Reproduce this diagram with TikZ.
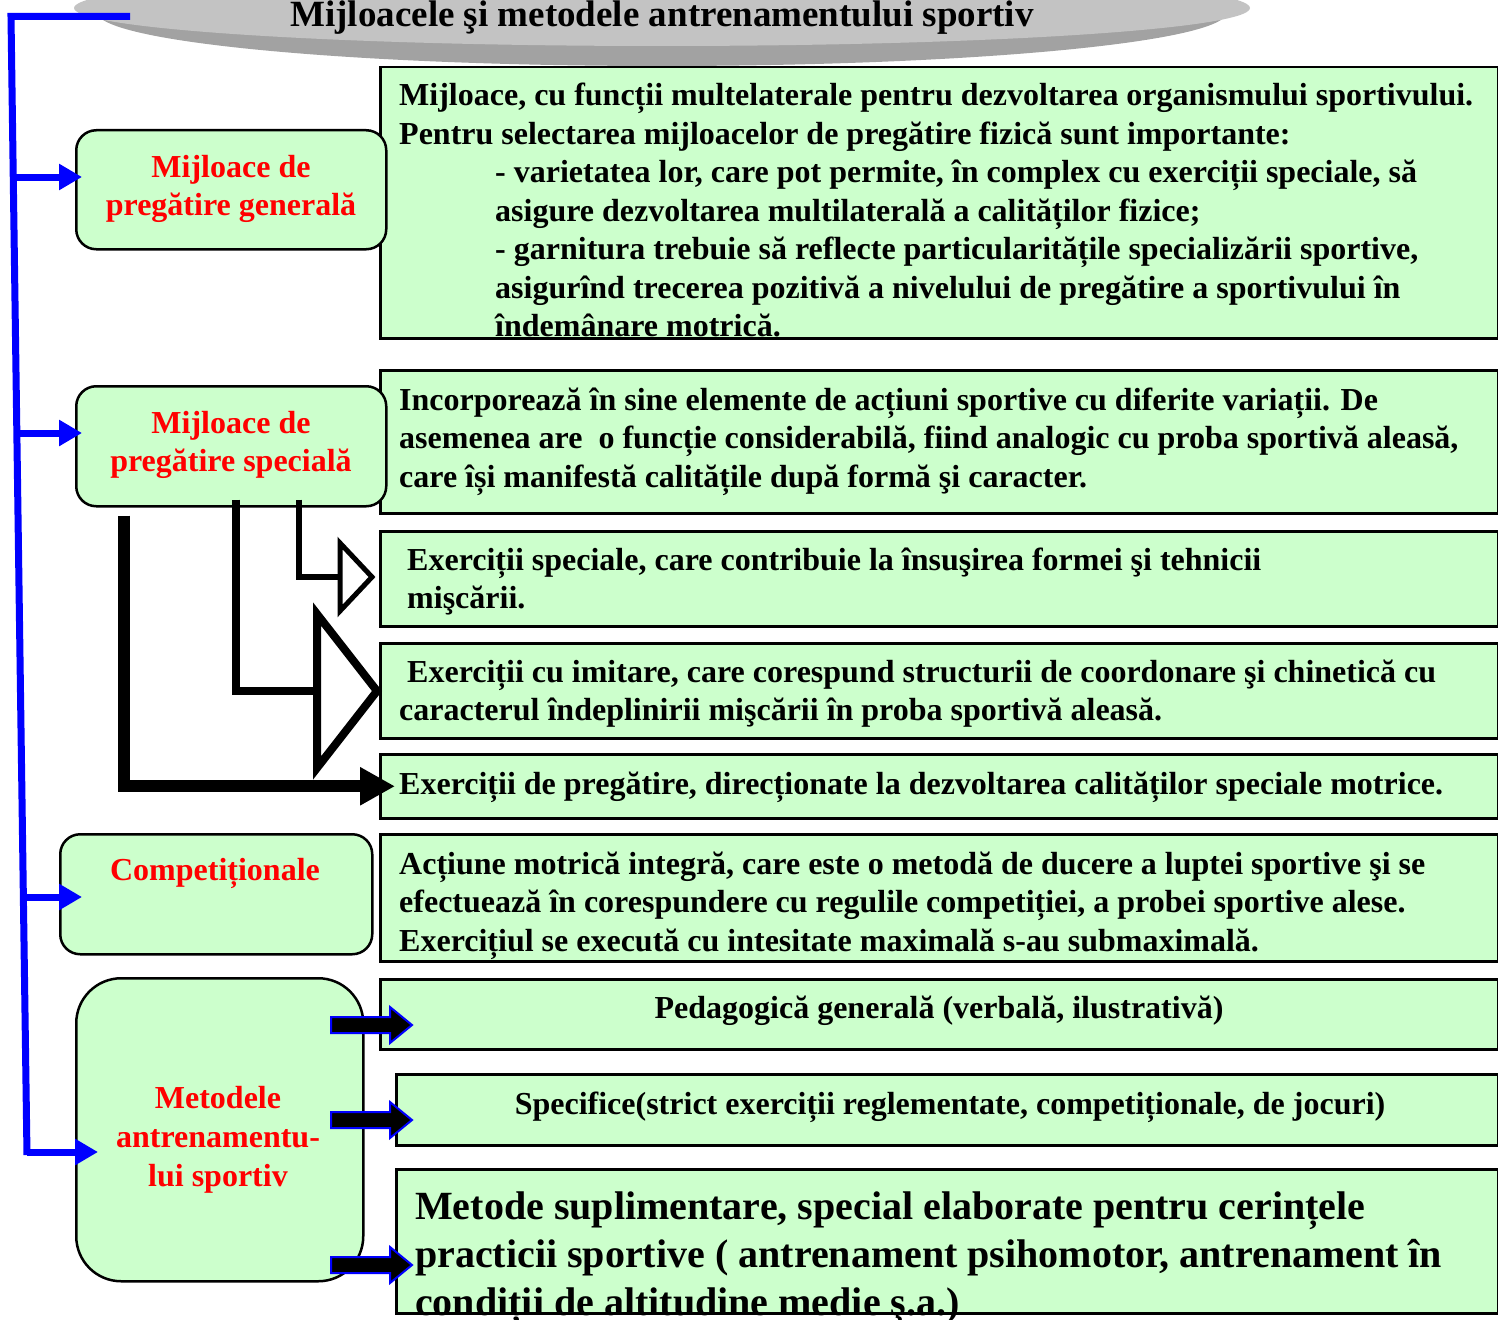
\documentclass[tikz,border=0pt]{standalone}
\usepackage{fontspec}
\setmainfont{Liberation Serif}
\usetikzlibrary{arrows.meta,calc}
\definecolor{lgreen}{HTML}{CCFFCC}
\definecolor{dgray}{HTML}{A2A2A2}
\definecolor{lgray}{HTML}{C3C3C3}
\begin{document}
\begin{tikzpicture}[x=1pt,y=-1pt,
  lbox/.style={draw=black, line width=2.5pt, fill=lgreen, rounded corners=20pt, anchor=north west, inner sep=0pt},
  rbox/.style={draw=black, line width=2.5pt, fill=lgreen, anchor=north west, inner sep=0pt},
  txt/.style={font=\bfseries\fontsize{32}{38}\selectfont, inner sep=0pt, anchor=base west},
  ctxt/.style={txt, anchor=base},
  btxt/.style={font=\bfseries\fontsize{40}{48}\selectfont, inner sep=0pt, anchor=base west},
  rtxt/.style={font=\bfseries\fontsize{32}{39}\selectfont, text=red, inner sep=0pt, anchor=base},
  bluearrow/.style={draw=blue, line width=7pt, -{Triangle[length=23pt,width=25pt]}},
  pics/barrow/.style={code={\draw[fill=black,draw=blue,line width=2pt,line join=miter]
     (0,-8) -- (59,-8) -- (59,-18) -- (81,0) -- (59,18) -- (59,8) -- (0,8) -- cycle;}}
]
\useasboundingbox (0,0) rectangle (1498,1319);
\clip (0,0) rectangle (1498,1319);

% title disc
\fill[dgray] (662,12) ellipse [x radius=565, y radius=54];
\fill[lgray] (662,8) ellipse [x radius=588, y radius=38];
\node[font=\bfseries\fontsize{37}{40}\selectfont, inner sep=0pt, anchor=base] (title) at (662,27) {Mijloacele şi metodele antrenamentului sportiv};

% right boxes
\node[rbox, minimum width=1118pt, minimum height=271pt] (r1) at (379,66) {};
\node[rbox, minimum width=1118pt, minimum height=143pt] (r2) at (379,369) {};
\node[rbox, minimum width=1118pt, minimum height=95pt] (r3) at (379,530) {};
\node[rbox, minimum width=1118pt, minimum height=95pt] (r4) at (379,642) {};
\node[rbox, minimum width=1118pt, minimum height=64pt] (r5) at (379,753) {};
\node[rbox, minimum width=1118pt, minimum height=127pt] (r6) at (379,833) {};
\node[rbox, minimum width=1118pt, minimum height=70pt] (r7) at (379,978) {};
\node[rbox, minimum width=1102pt, minimum height=71pt] (r8) at (395,1073) {};
\node[rbox, minimum width=1102pt, minimum height=144pt] (r9) at (395,1168) {};

% left boxes
\node[lbox, minimum width=310pt, minimum height=119pt] (g) at (75,129) {};
\node[lbox, minimum width=310pt, minimum height=120pt] (s) at (75,385) {};
\node[lbox, minimum width=312pt, minimum height=120pt] (c) at (59,833) {};
\node[lbox, rounded corners=45pt, minimum width=287pt, minimum height=303pt] (m) at (75,977) {};

% left texts
\node[rtxt] (gt1) at (231,177) {Mijloace de};
\node[rtxt] (gt2) at (231,215) {pregătire generală};
\node[rtxt] (st1) at (231,433) {Mijloace de};
\node[rtxt] (st2) at (231,471) {pregătire specială};
\node[rtxt] (ct1) at (215,880) {Competiționale};
\node[rtxt] (mt1) at (218,1108) {Metodele};
\node[rtxt] (mt2) at (218,1147) {antrenamentu-};
\node[rtxt] (mt3) at (218,1186) {lui sportiv};

% right texts
\node[txt] (r1a) at (399,106) {Mijloace, cu funcții multelaterale pentru dezvoltarea organismului sportivului.};
\node[txt] (r1b) at (399,144) {Pentru selectarea mijloacelor de pregătire fizică sunt importante:};
\node[txt] (r1c) at (495,182) {- varietatea lor, care pot permite, în complex cu exerciții speciale, să};
\node[txt] (r1d) at (495,221) {asigure dezvoltarea multilaterală a calităților fizice;};
\node[txt] (r1e) at (495,259) {- garnitura trebuie să reflecte particularitățile specializării sportive,};
\node[txt] (r1f) at (495,298) {asigurînd trecerea pozitivă a nivelului de pregătire a sportivului în};
\node[txt] (r1g) at (495,336) {îndemânare motrică.};

\node[txt] (r2a) at (399,410) {Incorporează în sine elemente de acțiuni sportive cu diferite variații. De};
\node[txt] (r2b) at (399,448) {asemenea are\ \ o funcție considerabilă, fiind analogic cu proba sportivă aleasă,};
\node[txt] (r2c) at (399,487) {care își manifestă calitățile după formă şi caracter.};

\node[txt] (r3a) at (407,570) {Exerciții speciale, care contribuie la însuşirea formei şi tehnicii};
\node[txt] (r3b) at (407,608) {mişcării.};

\node[txt] (r4a) at (407,682) {Exerciții cu imitare, care corespund structurii de coordonare şi chinetică cu};
\node[txt] (r4b) at (399,720) {caracterul îndeplinirii mişcării în proba sportivă aleasă.};

\node[txt] (r5a) at (399,794) {Exerciții de pregătire, direcționate la dezvoltarea calităților speciale motrice.};

\node[txt] (r6a) at (399,874) {Acțiune motrică integră, care este o metodă de ducere a luptei sportive şi se};
\node[txt] (r6b) at (399,912) {efectuează în corespundere cu regulile competiției, a probei sportive alese.};
\node[txt] (r6c) at (399,951) {Exercițiul se execută cu intesitate maximală s-au submaximală.};

\node[ctxt] (r7a) at (939,1018) {Pedagogică generală (verbală, ilustrativă)};
\node[ctxt] (r8a) at (950,1114) {Specifice(strict exerciții reglementate, competiționale, de jocuri)};

\node[btxt] (r9a) at (415,1219) {Metode suplimentare, special elaborate pentru cerințele};
\node[btxt] (r9b) at (415,1267) {practicii sportive ( antrenament psihomotor, antrenament în};
\node[btxt] (r9c) at (415,1315) {condiții de altitudine medie ş.a.)};

% blue bracket line
\draw[blue, line width=7pt, line join=miter] (130,16.5) -- (11,16.5) -- (27,1155);
\coordinate (b1) at (14.2,177);
\coordinate (b2) at (17.5,433);
\coordinate (b3) at (23.6,897);
\coordinate (b4) at (27,1152);
\draw[bluearrow] (b1) -- ($(b1 -| g.west)+(7,0)$);
\draw[bluearrow] (b2) -- ($(b2 -| s.west)+(7,0)$);
\draw[bluearrow] (b3) -- ($(b3 -| c.west)+(23,0)$);
\draw[bluearrow] (b4) -- ($(b4 -| m.west)+(23,0)$);

% black connectors from special box
\draw[line width=6pt, line join=miter] ($(s.south)+(68,-8)$) |- (340,577);
\draw[line width=5pt, line join=miter, fill=white] (340,543) -- (372,577) -- (340,611) -- cycle;
\draw[line width=8pt, line join=miter] ($(s.south)+(5,-8)$) |- (317,691);
\draw[line width=8pt, line join=miter, fill=white] (317,614) -- (377,691) -- (317,768) -- cycle;
\draw[line width=12pt, line join=miter, -{Triangle[length=35pt,width=36pt]}] ($(s.south)+(-107,8)$) |- ($(r5.west)+(16,0)$);

% block arrows to methods
\pic at (331,1025) {barrow};
\pic at (331,1120) {barrow};
\pic at (331,1265) {barrow};
\end{tikzpicture}
\end{document}
